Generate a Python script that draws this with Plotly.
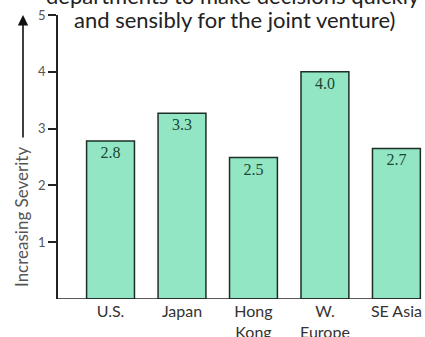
import plotly.graph_objects as go

categories = ["U.S.", "Japan", "Hong<br>Kong", "W.<br>Europe", "SE Asia"]
heights = [2.78, 3.27, 2.49, 4.0, 2.65]
value_labels = ["2.8", "3.3", "2.5", "4.0", "2.7"]
y_ticks = [1, 2, 3, 4, 5]
title_lines = ["departments to make decisions quickly",
               "and sensibly for the joint venture)"]
y_title = "Increasing Severity"

W, H = 425, 337
L, R, T, B = 58, 0, 15, 38
pw, ph = W - L - R, H - T - B

def px(x):
    return (x - L) / pw

def py(y):
    return (H - B - y) / ph

font_main = "Lato, 'Open Sans', sans-serif"

fig = go.Figure(go.Bar(
    x=list(range(len(categories))), y=heights,
    text=value_labels, textposition="inside", insidetextanchor="end",
    textangle=0, constraintext="none",
    textfont=dict(family="'Liberation Serif', serif", size=16, color="#1a4636"),
    marker=dict(color="#93e6c3", line=dict(color="#1d2e26", width=1.5)),
    width=0.67,
))

fig.update_layout(
    width=W, height=H, margin=dict(l=L, r=R, t=T, b=B, autoexpand=False),
    paper_bgcolor="white", plot_bgcolor="white", showlegend=False,
    font=dict(family=font_main, color="#333"),
)
fig.update_xaxes(
    range=[-0.735, 4.4], tickvals=list(range(len(categories))), ticktext=categories,
    showgrid=False, zeroline=False, showline=False, ticks="", automargin=False,
    tickfont=dict(size=16, color="#333"), ticklabelstandoff=1,
)
fig.update_yaxes(
    range=[0, 5], tickvals=y_ticks, ticktext=[str(v) for v in y_ticks], automargin=False,
    showgrid=False, zeroline=False, showline=True, linecolor="#222", linewidth=1.5,
    ticks="outside", ticklen=8, tickwidth=1.5, tickcolor="#222",
    tickfont=dict(size=13, color="#555"),
)
# baseline
fig.add_shape(type="line", xref="paper", yref="y", x0=0, x1=px(421), y0=0, y1=0,
              line=dict(color="#222", width=1.5))

ann = [
    dict(text=title_lines[0], x=px(233), y=py(-5)),
    dict(text=title_lines[1], x=px(234), y=py(20)),
]
for a in ann:
    fig.add_annotation(xref="paper", yref="paper", xanchor="center", yanchor="middle",
                       showarrow=False, font=dict(size=22, color="#222", family=font_main), **a)

fig.add_annotation(xref="paper", yref="paper", text=y_title, textangle=-90,
                   x=px(22), y=py(217), showarrow=False, xanchor="center", yanchor="middle",
                   font=dict(size=17, color="#555", family=font_main))
fig.add_annotation(xref="paper", yref="paper", text="", x=px(23), y=py(15),
                   ax=0, ay=124, showarrow=True, arrowhead=2, arrowsize=1.3,
                   arrowwidth=1.6, arrowcolor="#111")

fig.write_html("out.html")
